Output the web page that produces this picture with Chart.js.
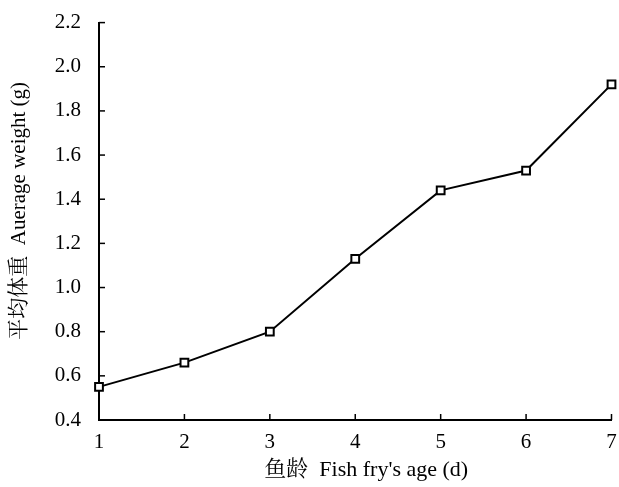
<!DOCTYPE html>
<html>
<head>
<meta charset="utf-8">
<script src="https://cdn.jsdelivr.net/npm/chart.js@4"></script>
<style>
html,body{margin:0;padding:0;background:#fff;}
#wrap{width:619px;height:487px;}
</style>
</head>
<body>
<div id="wrap"><canvas id="fishChart"></canvas></div>
<script>
// fish fry age (d) and average weight (g)
const ages = [1, 2, 3, 4, 5, 6, 7];
const weights = [0.55, 0.66, 0.80, 1.13, 1.44, 1.53, 1.92];
const yTicks = ["0.4", "0.6", "0.8", "1.0", "1.2", "1.4", "1.6", "1.8", "2.0", "2.2"];

const serif = "'Liberation Serif', 'Times New Roman', 'Noto Serif CJK SC', 'Noto Sans CJK SC', serif";

// small inward tick marks, drawn at the scale's own tick positions
const inwardTicks = {
  id: "inwardTicks",
  afterDraw(chart){
    const ctx = chart.ctx;
    const area = chart.chartArea;
    ctx.save();
    ctx.strokeStyle = "#000";
    ctx.lineWidth = 1.5;
    chart.scales.x.ticks.forEach((t, i) => {
      const px = chart.scales.x.getPixelForTick(i);
      ctx.beginPath();
      ctx.moveTo(px, area.bottom);
      ctx.lineTo(px, area.bottom - 6);
      ctx.stroke();
    });
    chart.scales.y.ticks.forEach((t, i) => {
      const py = chart.scales.y.getPixelForTick(i);
      ctx.beginPath();
      ctx.moveTo(area.left, py);
      ctx.lineTo(area.left + 6, py);
      ctx.stroke();
    });
    ctx.restore();
  }
};

new Chart(document.getElementById("fishChart"), {
  type: "line",
  data: {
    datasets: [{
      data: ages.map((a, i) => ({x: a, y: weights[i]})),
      borderColor: "#000",
      borderWidth: 2,
      pointStyle: "rect",
      pointRadius: 5.5,
      pointBorderWidth: 2,
      pointBackgroundColor: "#fff",
      pointBorderColor: "#000",
      tension: 0,
      clip: false
    }]
  },
  options: {
    responsive: true,
    maintainAspectRatio: false,
    animation: false,
    layout: {padding: {top: 16, right: 7, left: 3, bottom: 0}},
    plugins: {legend: {display: false}, tooltip: {enabled: false}},
    scales: {
      x: {
        type: "linear",
        min: 1, max: 7,
        grid: {display: false},
        border: {display: true, color: "#000", width: 2},
        ticks: {stepSize: 1, color: "#000", font: {family: serif, size: 21}, padding: 2},
        title: {display: true, text: "\u3000鱼龄  Fish fry's age (d)", color: "#000", font: {family: serif, size: 22}, padding: {top: 2}},
        afterFit(scale){ scale.height = 67; }
      },
      y: {
        min: 0.4, max: 2.2,
        grid: {display: false},
        border: {display: true, color: "#000", width: 2},
        ticks: {
          stepSize: 0.2, color: "#000", font: {family: serif, size: 21}, padding: 10,
          callback: (v, i) => yTicks[i]
        },
        title: {display: true, text: "\u3000平均体重  Auerage weight (g)", color: "#000", font: {family: serif, size: 21}, padding: {bottom: 4}},
        afterFit(scale){ scale.width = 96; }
      }
    }
  },
  plugins: [inwardTicks]
});
</script>
</body>
</html>
